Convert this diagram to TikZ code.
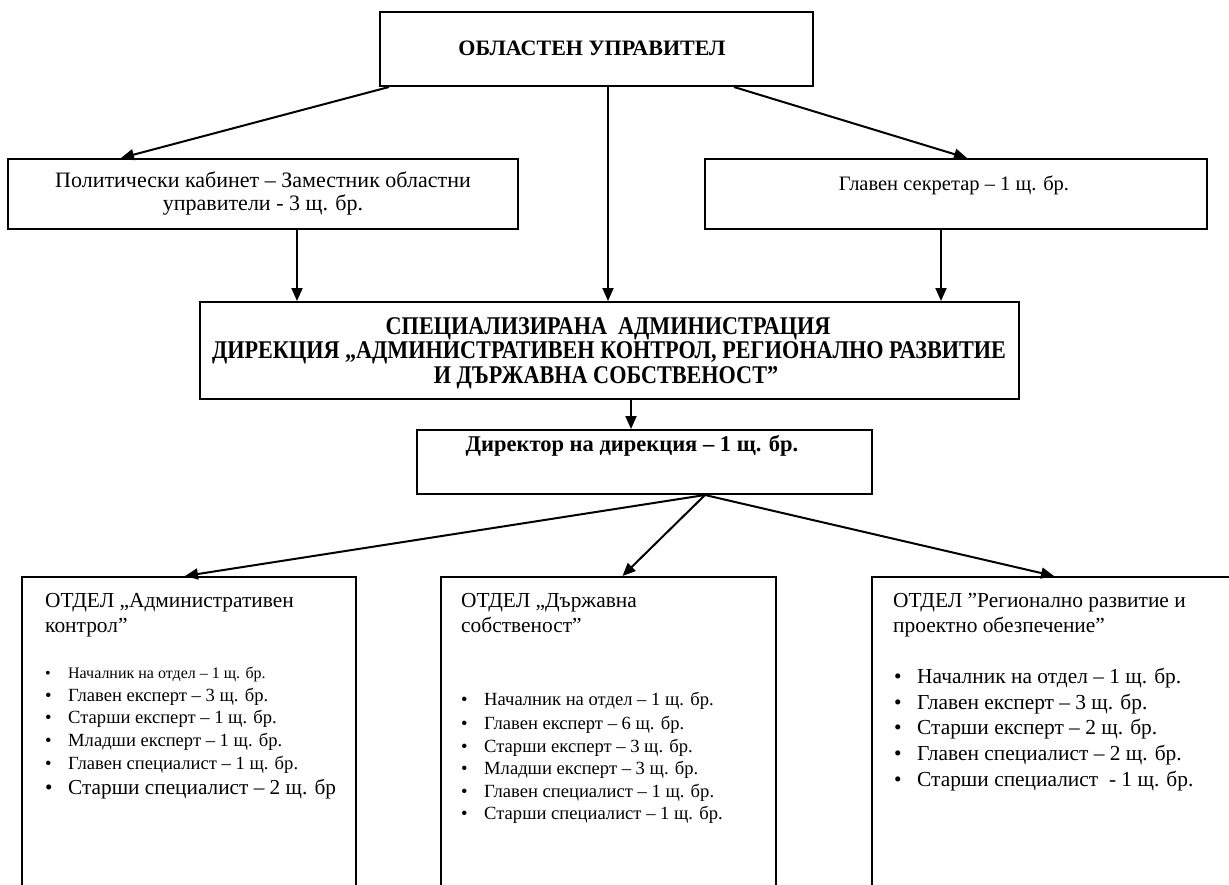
\documentclass[tikz,border=0pt]{standalone}
\usepackage{fontspec}
\setmainfont{Liberation Serif}
\newfontfamily\specfont[FakeStretch=0.87]{Liberation Serif}
\usetikzlibrary{arrows.meta,calc}
\newcommand{\fs}[1]{\fontsize{#1}{#1}\selectfont}
\newcommand{\bitem}[5]{\node[itemtxt, font=\fs{#4}] (#1) at (#2,#3) {\makebox[23pt][l]{•}#5};}
\begin{document}
\begin{tikzpicture}[x=1pt,y=-1pt,
  box/.style={draw, line width=2pt, minimum width=#1, inner sep=0pt},
  arr/.style={-{Triangle[length=13pt,width=11pt]}, line width=2pt},
  ctr/.style={anchor=base, inner sep=0pt},
  lft/.style={anchor=base west, inner sep=0pt, font=\fs{21.4}},
  itemtxt/.style={anchor=base west, inner sep=0pt}]
\useasboundingbox (0,0) rectangle (1229,884);
\clip (0,0) rectangle (1229,884);
\fill[white] (0,0) rectangle (1229,884);

% boxes
\node[box=433pt, minimum height=74pt] (top) at (596.5,49) {};
\node[box=510pt, minimum height=70pt] (pol) at (263,194) {};
\node[box=502pt, minimum height=70pt] (sec) at (956,194) {};
\node[box=819pt, minimum height=97pt] (spec) at (609.5,350.5) {};
\node[box=455pt, minimum height=64pt] (dir) at (644.5,462) {};
\node[box=334pt, minimum height=323pt] (d1) at (189,738.5) {};
\node[box=335pt, minimum height=323pt] (d2) at (608.5,738.5) {};
\node[box=388pt, minimum height=323pt] (d3) at (1066,738.5) {};

% texts
\node[ctr, font=\bfseries\fs{22}] (ttl) at (592,55) {ОБЛАСТЕН УПРАВИТЕЛ};
\node[ctr, font=\fs{22}] (pol1) at (263,187) {Политически кабинет – Заместник областни};
\node[ctr, font=\fs{22}] (pol2) at (263,210) {управители - 3 щ. бр.};
\node[ctr, font=\fs{20.5}] (sec1) at (954,190) {Главен секретар – 1 щ. бр.};
\node[ctr, font=\specfont\bfseries\fs{25.5}] (sp1) at (608,334) {СПЕЦИАЛИЗИРАНА\ \ АДМИНИСТРАЦИЯ};
\node[ctr, font=\specfont\bfseries\fs{25.5}] (sp2) at (609,358.5) {ДИРЕКЦИЯ „АДМИНИСТРАТИВЕН КОНТРОЛ, РЕГИОНАЛНО РАЗВИТИЕ};
\node[ctr, font=\specfont\bfseries\fs{25.5}] (sp3) at (606,383) {И ДЪРЖАВНА СОБСТВЕНОСТ”};
\node[ctr, font=\bfseries\fs{22.5}] (dirt) at (632,451) {Директор на дирекция – 1 щ. бр.};

\node[lft] (h1a) at (45,607) {ОТДЕЛ „Административен};
\node[lft] (h1b) at (45,632) {контрол”};
\node[lft] (h2a) at (461,607) {ОТДЕЛ „Държавна};
\node[lft] (h2b) at (461,632) {собственост”};
\node[lft] (h3a) at (893,607) {ОТДЕЛ ”Регионално развитие и};
\node[lft] (h3b) at (893,632) {проектно обезпечение”};

\bitem{l1}{45}{678}{16}{Началник на отдел – 1 щ. бр.}
\bitem{l2}{45}{701}{18.6}{Главен експерт – 3 щ. бр.}
\bitem{l3}{45}{723}{18.6}{Старши експерт – 1 щ. бр.}
\bitem{l4}{45}{746}{18.6}{Младши експерт – 1 щ. бр.}
\bitem{l5}{45}{769}{18.6}{Главен специалист – 1 щ. бр.}
\bitem{l6}{45}{794}{21.3}{Старши специалист – 2 щ. бр}

\bitem{m1}{461}{705}{18.6}{Началник на отдел – 1 щ. бр.}
\bitem{m2}{461}{729}{18.6}{Главен експерт – 6 щ. бр.}
\bitem{m3}{461}{752}{18.6}{Старши експерт – 3 щ. бр.}
\bitem{m4}{461}{774}{18.6}{Младши експерт – 3 щ. бр.}
\bitem{m5}{461}{797}{18.6}{Главен специалист – 1 щ. бр.}
\bitem{m6}{461}{819}{18.6}{Старши специалист – 1 щ. бр.}

\bitem{r1}{894}{683}{21.4}{Началник на отдел – 1 щ. бр.}
\bitem{r2}{894}{709}{21.4}{Главен експерт – 3 щ. бр.}
\bitem{r3}{894}{734}{21.4}{Старши експерт – 2 щ. бр.}
\bitem{r4}{894}{760}{21.4}{Главен специалист – 2 щ. бр.}
\bitem{r5}{894}{786}{21.4}{Старши специалист\ \ - 1 щ. бр.}

% connectors
\draw[arr] ($(top.south west)+(10,0)$) -- ($(pol.north west)+(114,0)$);
\draw[arr] ($(top.south west)+(355,0)$) -- ($(sec.north west)+(263,0)$);
\draw[arr] ($(top.south)+(11.5,0)$) -- ($(spec.north)+(-1.5,0)$);
\draw[arr] ($(pol.south west)+(290,0)$) -- ($(spec.north west)+(98,0)$);
\draw[arr] ($(sec.south west)+(237,0)$) -- ($(spec.north west)+(742,0)$);
\draw[arr] ($(spec.south west)+(432,0)$) -- ($(dir.north west)+(215,0)$);
\draw[arr] ($(dir.south west)+(289,0)$) -- ($(d1.north)+(-4,0)$);
\draw[arr] ($(dir.south west)+(289,0)$) -- ($(d2.north)+(14,0)$);
\draw[arr] ($(dir.south west)+(289,0)$) -- ($(d3.north west)+(183,0)$);
\end{tikzpicture}
\end{document}
